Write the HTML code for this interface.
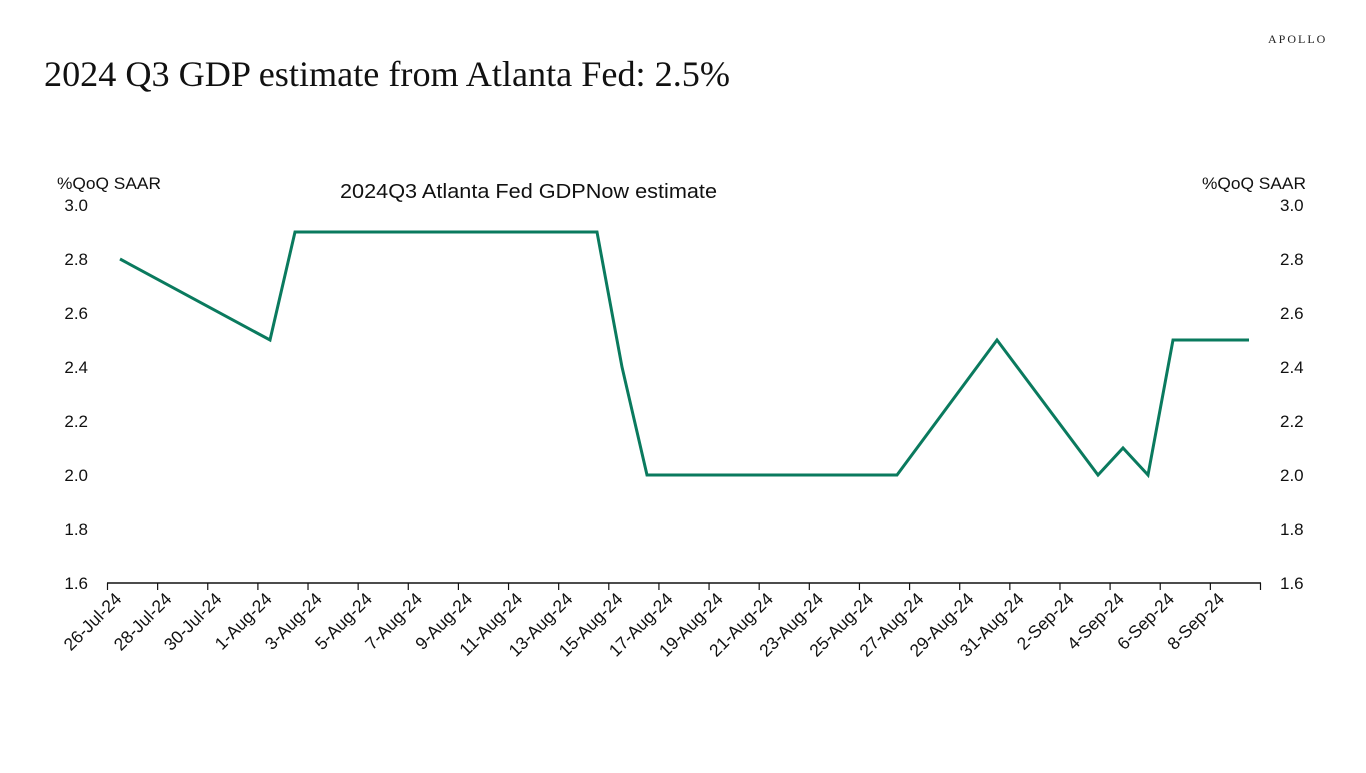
<!DOCTYPE html>
<html><head><meta charset="utf-8"><style>
body{margin:0;background:#fff;width:1366px;height:768px;overflow:hidden}
</style></head><body>
<svg width="1366" height="768" xmlns="http://www.w3.org/2000/svg" font-family="Liberation Sans, sans-serif">
<text x="1268" y="43" font-family="Liberation Serif, serif" font-size="12" letter-spacing="2" fill="#222">APOLLO</text>
<text x="44" y="86" font-family="Liberation Serif, serif" font-size="36" fill="#111" textLength="686" lengthAdjust="spacingAndGlyphs">2024 Q3 GDP estimate from Atlanta Fed: 2.5%</text>
<text x="57" y="189" font-size="17" fill="#111" textLength="104" lengthAdjust="spacingAndGlyphs">%QoQ SAAR</text>
<text x="1202" y="189" font-size="17" fill="#111" textLength="104" lengthAdjust="spacingAndGlyphs">%QoQ SAAR</text>
<text x="340" y="198" font-size="20" fill="#111" textLength="377" lengthAdjust="spacingAndGlyphs">2024Q3 Atlanta Fed GDPNow estimate</text>
<g font-size="17" fill="#111">
<text x="88" y="211" text-anchor="end">3.0</text><text x="1280" y="211">3.0</text>
<text x="88" y="265" text-anchor="end">2.8</text><text x="1280" y="265">2.8</text>
<text x="88" y="319" text-anchor="end">2.6</text><text x="1280" y="319">2.6</text>
<text x="88" y="373" text-anchor="end">2.4</text><text x="1280" y="373">2.4</text>
<text x="88" y="427" text-anchor="end">2.2</text><text x="1280" y="427">2.2</text>
<text x="88" y="481" text-anchor="end">2.0</text><text x="1280" y="481">2.0</text>
<text x="88" y="535" text-anchor="end">1.8</text><text x="1280" y="535">1.8</text>
<text x="88" y="589" text-anchor="end">1.6</text><text x="1280" y="589">1.6</text>
</g>
<line x1="107" y1="583" x2="1261" y2="583" stroke="#111" stroke-width="1.5"/>
<g stroke="#111" stroke-width="1.2" id="ticks"></g>
<g font-size="17.5" fill="#111" id="labels"></g>
<polyline fill="none" stroke="#0a7a5e" stroke-width="3" stroke-linejoin="miter" points="120,259 270,340 295,232 597,232 622,367 647,475 897,475 997,340 1098,475 1123,448 1148,475 1173,340 1249,340"/>
<script>
var names=["26-Jul-24","28-Jul-24","30-Jul-24","1-Aug-24","3-Aug-24","5-Aug-24","7-Aug-24","9-Aug-24","11-Aug-24","13-Aug-24","15-Aug-24","17-Aug-24","19-Aug-24","21-Aug-24","23-Aug-24","25-Aug-24","27-Aug-24","29-Aug-24","31-Aug-24","2-Sep-24","4-Sep-24","6-Sep-24","8-Sep-24"];
var ns="http://www.w3.org/2000/svg",t=document.getElementById("ticks"),l=document.getElementById("labels");
for(var i=0;i<=23;i++){var x=107.5+i*50.13;var ln=document.createElementNS(ns,"line");ln.setAttribute("x1",x);ln.setAttribute("x2",x);ln.setAttribute("y1",583);ln.setAttribute("y2",590);t.appendChild(ln);
if(i<23){var tx=document.createElementNS(ns,"text");tx.setAttribute("text-anchor","end");tx.setAttribute("transform","translate("+(x+15)+",600) rotate(-45)");tx.textContent=names[i];l.appendChild(tx);}}
</script>
</svg>
</body></html>
